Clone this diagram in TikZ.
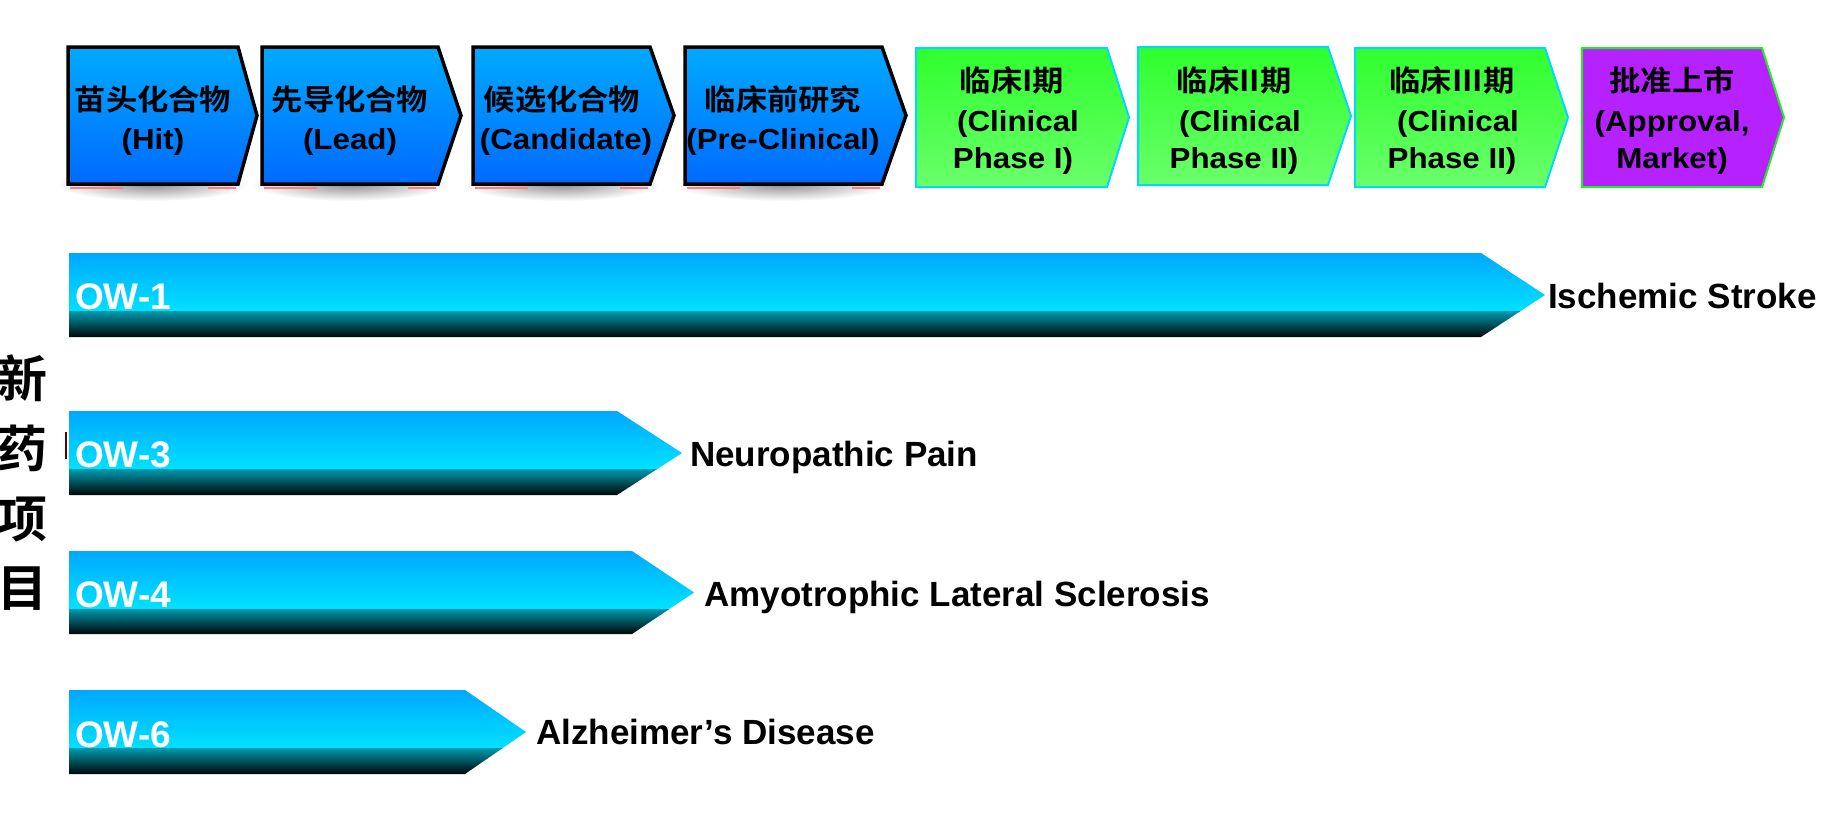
\documentclass[tikz,border=0pt]{standalone}
\usepackage{fontspec}
\setmainfont{Liberation Sans}
\newfontfamily\latb{Liberation Sans}[UprightFont={* Bold}]
\newfontfamily\latbs{Liberation Sans}[UprightFont={* Bold},FakeStretch=1.08]
\newfontfamily\cjkb{Noto Sans CJK SC}[UprightFont={* Bold}]
\newfontfamily\cjkbs{Noto Sans CJK SC}[UprightFont={* Bold},FakeStretch=1.08]
\definecolor{blueTop}{HTML}{00AAFF}
\definecolor{blueBot}{HTML}{006AFF}
\definecolor{greenTop}{HTML}{2EFF2E}
\definecolor{greenBot}{HTML}{6AFF6A}
\definecolor{edgeCyan}{HTML}{00D8FF}
\definecolor{edgeGreen}{HTML}{1EF01E}
\definecolor{purpleFill}{HTML}{B522FF}
\definecolor{barTop}{HTML}{00A8FF}
\definecolor{barMid}{HTML}{00E2FF}
\definecolor{bandTop}{HTML}{0096AA}
\definecolor{bandBot}{HTML}{000808}
\definecolor{shadowGray}{HTML}{8C8C8C}
\definecolor{pinkMark}{HTML}{FF8080}
\definecolor{darkMark}{HTML}{5A0000}
\tikzset{
 bluebox/.style={draw=black, line width=3.5pt, line join=miter, top color=blueTop, bottom color=blueBot},
 greenbox/.style={draw=edgeCyan, line width=2pt, top color=greenTop, bottom color=greenBot},
 purplebox/.style={draw=edgeGreen, line width=2pt, fill=purpleFill},
 cjkline/.style={font=\cjkbs\fontsize{29}{35}\selectfont, inner sep=0pt, anchor=base},
 latline/.style={font=\latbs\fontsize{29}{35}\selectfont, inner sep=0pt, anchor=base},
 owlabel/.style={font=\latb\fontsize{37}{40}\selectfont, text=white, inner sep=0pt, anchor=base west},
 dislabel/.style={font=\latb\fontsize{35}{40}\selectfont, text=black, inner sep=0pt, anchor=base west},
 titlech/.style={font=\cjkb\fontsize{50}{55}\selectfont, inner sep=0pt},
 boxshadow/.style={inner color=shadowGray, outer color=white},
 pinkmark/.style={draw=pinkMark, line width=2.5pt},
}
% chevron outline: style, x0, x1, x2, ytop, ybot
\newcommand\chevpath[6]{\path[#1] (#2,#5) -- (#3,#5) -- (#4,{(#5+#6)/2}) -- (#3,#6) -- (#2,#6) -- cycle;}
% lower bar: x0, x1, x2, ytop, ybot
\newcommand\pipebar[5]{%
 \begin{scope}
  \clip (#1,#4) -- (#2,#4) -- (#3,{(#4+#5)/2}) -- (#2,#5) -- (#1,#5) -- cycle;
  \shade[top color=barTop, bottom color=barMid] (#1,#4) rectangle (#3,{#4+0.70*(#5-#4)});
  \shade[top color=bandTop, bottom color=bandBot] (#1,{#4+0.70*(#5-#4)}) rectangle (#3,#5);
 \end{scope}}
% blue shadow: xc, halfwidth, x0, x1
\newcommand\blueshadow[4]{%
 \shade[boxshadow] (#1,184) ellipse [x radius=#2pt, y radius=17pt];
 \draw[pinkmark] ({#3+2},188) -- ({#3+55},188);
 \draw[pinkmark] ({#4-30},188) -- ({#4-2},188);}
\begin{document}
\begin{tikzpicture}[x=1pt,y=-1pt]
\useasboundingbox (0,0) rectangle (1835,819);
% shadows under blue stage boxes
\blueshadow{153}{96}{68}{238}
\blueshadow{350}{98}{262}{438}
\blueshadow{561}{98}{473}{650}
\blueshadow{783}{108}{685}{882}
% stage boxes
\chevpath{bluebox}{68}{238}{257}{47}{184}
\chevpath{bluebox}{262}{438}{461}{47}{184}
\chevpath{bluebox}{473}{650}{674}{47}{184}
\chevpath{bluebox}{685}{882}{906}{47}{184}
\chevpath{greenbox}{916}{1107}{1129}{48}{187}
\chevpath{greenbox}{1138}{1328}{1351}{47}{185}
\chevpath{greenbox}{1355}{1545}{1568}{48}{187}
\chevpath{purplebox}{1582}{1762}{1784}{48}{187}
% stage texts
\node[cjkline] (s1a) at (153,110) {苗头化合物};
\node[latline] (s1b) at (153,149) {(Hit)};
\node[cjkline] (s2a) at (350,110) {先导化合物};
\node[latline] (s2b) at (350,149) {(Lead)};
\node[cjkline] (s3a) at (562,110) {候选化合物};
\node[latline] (s3b) at (566,149) {(Candidate)};
\node[cjkline] (s4a) at (783,110) {临床前研究};
\node[latline] (s4b) at (783,149) {(Pre-Clinical)};
\node[cjkline] (s5a) at (1012,91) {临床I期};
\node[latline] (s5b) at (1018,131) {(Clinical};
\node[latline] (s5c) at (1013,168) {Phase I)};
\node[cjkline] (s6a) at (1234,91) {临床II期};
\node[latline] (s6b) at (1240,131) {(Clinical};
\node[latline] (s6c) at (1234,168) {Phase II)};
\node[cjkline] (s7a) at (1452,91) {临床III期};
\node[latline] (s7b) at (1458,131) {(Clinical};
\node[latline] (s7c) at (1452,168) {Phase II)};
\node[cjkline] (s8a) at (1672,91) {批准上市};
\node[latline] (s8b) at (1672,131) {(Approval,};
\node[latline] (s8c) at (1672,168) {Market)};
% vertical title
\node[titlech] (t1) at (23,378) {新};
\node[titlech] (t2) at (23,448) {药};
\node[titlech] (t3) at (23,520) {项};
\node[titlech] (t4) at (23,589) {目};
\draw[darkMark, line width=1.5pt] (66,432) -- (66,459);
% project bars
\pipebar{69}{1481}{1545}{253}{337}
\pipebar{69}{617}{682}{411}{495}
\pipebar{69}{632}{694}{551}{634}
\pipebar{69}{465}{526}{690}{774}
\node[owlabel] (ow1) at (75,309) {OW-1};
\node[owlabel] (ow3) at (75,467) {OW-3};
\node[owlabel] (ow4) at (75,607) {OW-4};
\node[owlabel] (ow6) at (75,747) {OW-6};
\node[dislabel] (d1) at (1548,308) {Ischemic Stroke};
\node[dislabel] (d3) at (690,466) {Neuropathic Pain};
\node[dislabel] (d4) at (704,606) {Amyotrophic Lateral Sclerosis};
\node[dislabel] (d6) at (536,744) {Alzheimer’s Disease};
\end{tikzpicture}
\end{document}
